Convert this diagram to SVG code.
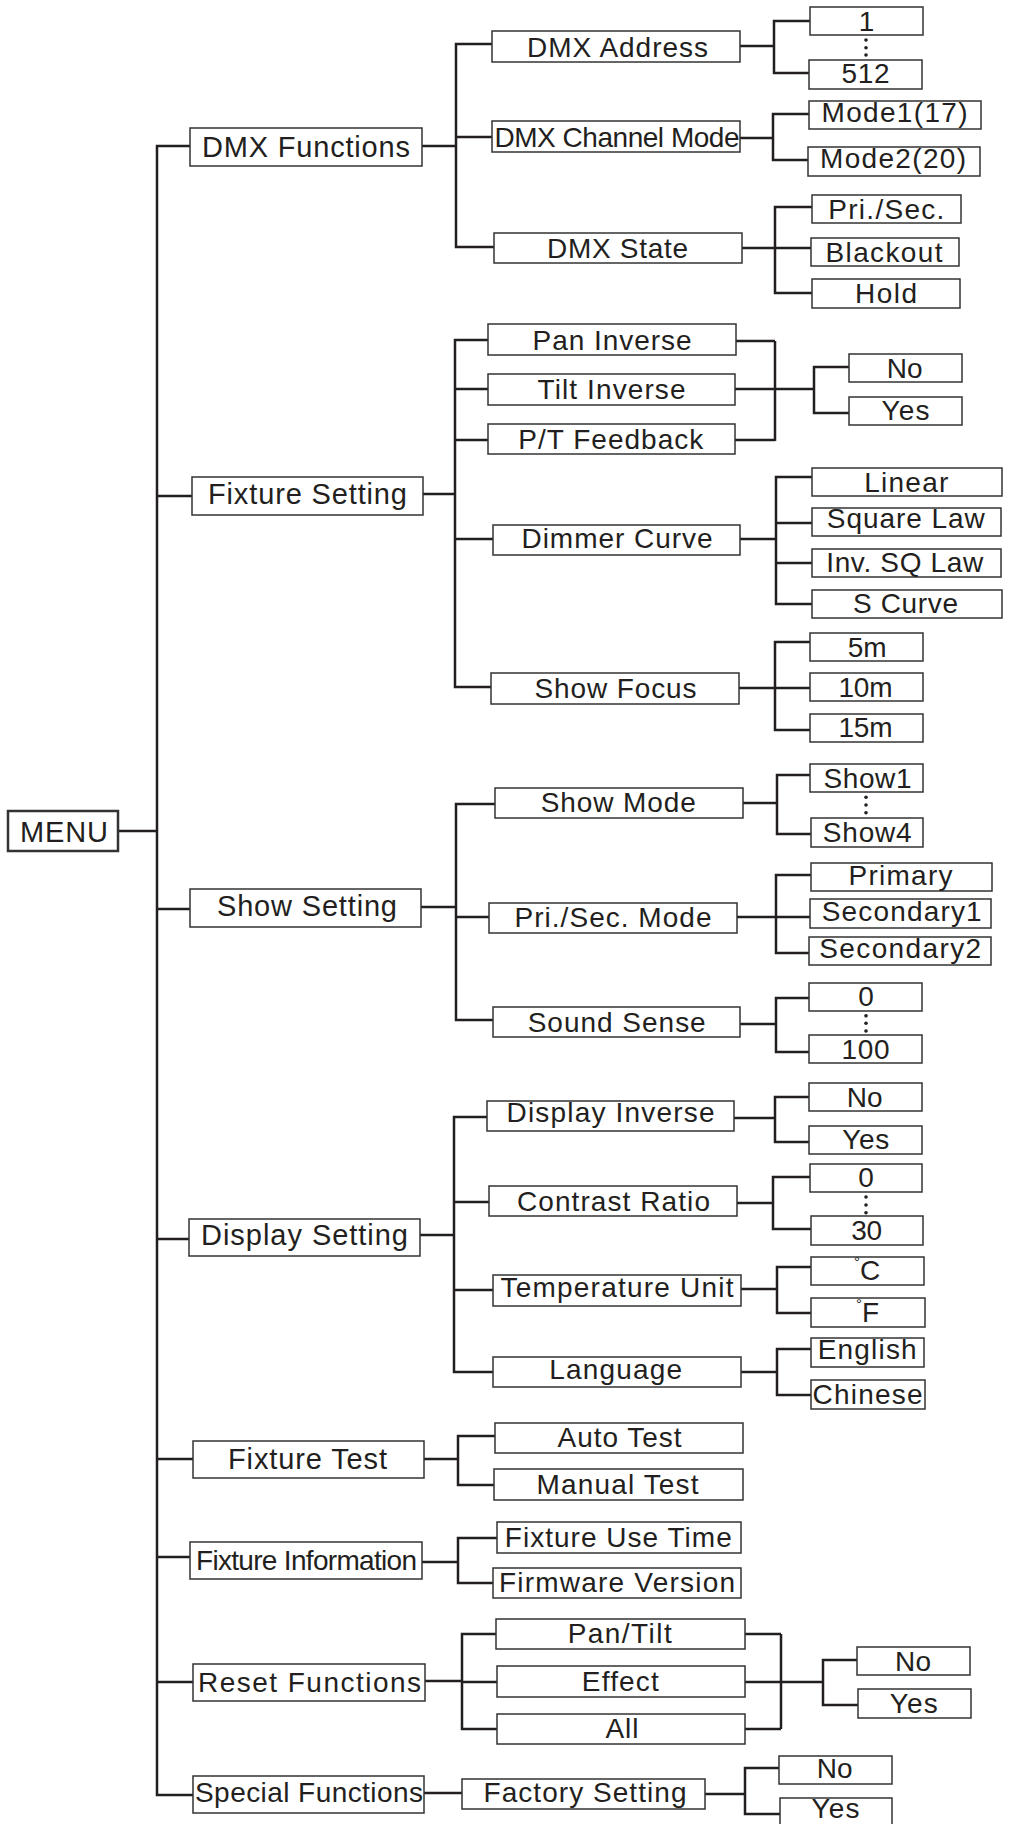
<svg xmlns="http://www.w3.org/2000/svg" width="1014" height="1824" viewBox="0 0 1014 1824">
<style>
.b{fill:#fff;stroke:#333;stroke-width:1.5}
.t{font-family:"Liberation Sans",Arial,sans-serif;font-size:28px;fill:#231f20;text-anchor:middle}
.h{font-size:29px}
.c{fill:none;stroke:#231f20;stroke-width:2.5}
.d{fill:#231f20}
</style>
<rect width="1014" height="1824" fill="#fff"/>
<g id="connectors" class="c">
<path d="M190 146H157V1795H193"/>
<path d="M118 831H157"/>
<path d="M157 496H192M157 909H190M157 1239H189M157 1459H193M157 1557H190M157 1682H193"/>
<path d="M422 146H456M493 44H456V247H495M456 137H493"/>
<path d="M740 46H774M810 21H774V73H809"/>
<path d="M740 138H773M809 114H773V160H808"/>
<path d="M742 248H775M812 207H775V293H812M775 248H811"/>
<path d="M423 494H455M488 340H455V687H491M455 389H488M455 440H488M455 539H493"/>
<path d="M736 341H775M735 389H775M735 440H775M775 341V441M775 389H814M849 367H814V413H849"/>
<path d="M740 539H776M812 477H776V604H812M776 523H812M776 563H812"/>
<path d="M739 688H775M810 642H775V730H810M775 688H810"/>
<path d="M421 907H456M495 804H456V1020H493M456 917H489"/>
<path d="M743 803H777M810 775H777V834H811"/>
<path d="M737 917H776M811 875H776V953H809M776 917H810"/>
<path d="M740 1024H776M809 998H776V1052H809"/>
<path d="M420 1235H454M487 1117H454V1372H493M454 1202H489M454 1290H493"/>
<path d="M734 1118H775M809 1097H775V1142H809"/>
<path d="M737 1203H773M810 1177H773V1229H811"/>
<path d="M741 1289H777M811 1267H777V1313H811"/>
<path d="M741 1372H777M811 1349H777V1395H811"/>
<path d="M424 1459H458M495 1436H458V1485H494"/>
<path d="M422 1562H458M497 1538H458V1583H493"/>
<path d="M425 1681H462M496 1634H462V1729H497M462 1682H497"/>
<path d="M745 1634H781M745 1682H781M745 1729H781M781 1634V1729M781 1682H823M857 1660H823V1705H858"/>
<path d="M424 1793H462"/>
<path d="M705 1794H745M779 1768H745V1814H780"/>
</g>
<g id="menu"><rect x="8" y="811" width="110" height="40" fill="#fff" stroke="#333" stroke-width="2.5"/><text class="t h" x="64" y="841.5" textLength="88" font-size="30">MENU</text></g>
<g id="dmx-functions"><rect class="b" x="190" y="128" width="232" height="38"/><text class="t h" x="306" y="157" textLength="208">DMX Functions</text></g>
<g id="fixture-setting"><rect class="b" x="192" y="477" width="231" height="38"/><text class="t h" x="307.5" y="504" textLength="199">Fixture Setting</text></g>
<g id="show-setting"><rect class="b" x="190" y="889" width="231" height="38"/><text class="t h" x="307" y="916" textLength="180">Show Setting</text></g>
<g id="display-setting"><rect class="b" x="189" y="1219" width="231" height="37"/><text class="t h" x="304.5" y="1245" textLength="207">Display Setting</text></g>
<g id="fixture-test"><rect class="b" x="193" y="1441" width="231" height="37"/><text class="t h" x="307.5" y="1469" textLength="159">Fixture Test</text></g>
<g id="fixture-information"><rect class="b" x="190" y="1542" width="232" height="37"/><text class="t" x="306.5" y="1570" textLength="221" font-size="25">Fixture Information</text></g>
<g id="reset-functions"><rect class="b" x="193" y="1664" width="232" height="37"/><text class="t" x="309.5" y="1691.5" textLength="223">Reset Functions</text></g>
<g id="special-functions"><rect class="b" x="193" y="1776" width="231" height="37"/><text class="t" x="309" y="1801.5" textLength="228">Special Functions</text></g>

<g id="dmx-address"><rect class="b" x="492" y="31" width="248" height="31"/><text class="t" x="617.5" y="57" textLength="181">DMX Address</text></g>
<g id="dmx-channel-mode"><rect class="b" x="492" y="121" width="248" height="31"/><text class="t" x="617" y="146.5" textLength="245" font-size="27">DMX Channel Mode</text></g>
<g id="dmx-state"><rect class="b" x="494" y="233" width="248" height="30"/><text class="t" x="617.5" y="258.3" textLength="141">DMX State</text></g>
<g id="addr-1"><rect class="b" x="810" y="7" width="113" height="28"/><text class="t" x="866.5" y="31">1</text></g>
<g id="addr-dots" class="d"><circle cx="866" cy="40" r="1.8"/><circle cx="866" cy="47.7" r="1.8"/><circle cx="866" cy="55" r="1.8"/></g>
<g id="addr-512"><rect class="b" x="809" y="60" width="113" height="29"/><text class="t" x="865.5" y="83.3" textLength="48">512</text></g>
<g id="mode1"><rect class="b" x="809" y="101" width="172" height="28"/><text class="t" x="894.5" y="121.7" textLength="146">Mode1(17)</text></g>
<g id="mode2"><rect class="b" x="808" y="147" width="172" height="29"/><text class="t" x="893" y="167.7" textLength="146">Mode2(20)</text></g>
<g id="pri-sec"><rect class="b" x="812" y="195" width="149" height="28"/><text class="t" x="886.3" y="219" textLength="116">Pri./Sec.</text></g>
<g id="blackout"><rect class="b" x="811" y="238" width="148" height="28"/><text class="t" x="884" y="261.7" textLength="117">Blackout</text></g>
<g id="hold"><rect class="b" x="812" y="279" width="148" height="29"/><text class="t" x="886" y="302.5" textLength="62">Hold</text></g>

<g id="pan-inverse"><rect class="b" x="488" y="324" width="248" height="31"/><text class="t" x="612" y="350" textLength="159">Pan Inverse</text></g>
<g id="tilt-inverse"><rect class="b" x="488" y="374" width="247" height="31"/><text class="t" x="611.5" y="399.3" textLength="148">Tilt Inverse</text></g>
<g id="pt-feedback"><rect class="b" x="488" y="424" width="247" height="30"/><text class="t" x="610.8" y="449" textLength="185">P/T Feedback</text></g>
<g id="inverse-no"><rect class="b" x="849" y="354" width="113" height="28"/><text class="t" x="904.7" y="378.3" textLength="36">No</text></g>
<g id="inverse-yes"><rect class="b" x="849" y="397" width="113" height="28"/><text class="t" x="905.5" y="420" textLength="48">Yes</text></g>
<g id="dimmer-curve"><rect class="b" x="493" y="525" width="247" height="30"/><text class="t" x="617" y="548.3" textLength="191">Dimmer Curve</text></g>
<g id="linear"><rect class="b" x="812" y="468" width="190" height="28"/><text class="t" x="906.3" y="491.7" textLength="84">Linear</text></g>
<g id="square-law"><rect class="b" x="812" y="508" width="189" height="28"/><text class="t" x="905.8" y="528.3" textLength="158">Square Law</text></g>
<g id="inv-sq-law"><rect class="b" x="812" y="549" width="189" height="28"/><text class="t" x="904.7" y="571.7" textLength="157">Inv. SQ Law</text></g>
<g id="s-curve"><rect class="b" x="812" y="590" width="190" height="28"/><text class="t" x="905.5" y="613.3" textLength="105">S Curve</text></g>
<g id="show-focus"><rect class="b" x="491" y="673" width="248" height="31"/><text class="t" x="615.5" y="697.7" textLength="162">Show Focus</text></g>
<g id="focus-5m"><rect class="b" x="810" y="633" width="113" height="28"/><text class="t" x="867.2" y="656.7" textLength="39">5m</text></g>
<g id="focus-10m"><rect class="b" x="810" y="673" width="113" height="28"/><text class="t" x="865.5" y="696.7" textLength="54">10m</text></g>
<g id="focus-15m"><rect class="b" x="810" y="714" width="113" height="28"/><text class="t" x="865.5" y="737.3" textLength="54">15m</text></g>

<g id="show-mode"><rect class="b" x="495" y="788" width="248" height="30"/><text class="t" x="618.3" y="812.3" textLength="155">Show Mode</text></g>
<g id="show1"><rect class="b" x="810" y="764" width="113" height="28"/><text class="t" x="867.5" y="787.7" textLength="88">Show1</text></g>
<g id="show-dots" class="d"><circle cx="866" cy="797.3" r="1.8"/><circle cx="866" cy="805" r="1.8"/><circle cx="866" cy="812.7" r="1.8"/></g>
<g id="show4"><rect class="b" x="811" y="818" width="112" height="29"/><text class="t" x="867.2" y="842.3" textLength="89">Show4</text></g>
<g id="pri-sec-mode"><rect class="b" x="489" y="903" width="248" height="30"/><text class="t" x="613" y="926.7" textLength="197">Pri./Sec. Mode</text></g>
<g id="primary"><rect class="b" x="811" y="863" width="181" height="28"/><text class="t" x="900.5" y="885" textLength="104">Primary</text></g>
<g id="secondary1"><rect class="b" x="810" y="899" width="181" height="29"/><text class="t" x="901.7" y="920.7" textLength="160">Secondary1</text></g>
<g id="secondary2"><rect class="b" x="809" y="937" width="182" height="28"/><text class="t" x="900.2" y="958.3" textLength="162">Secondary2</text></g>
<g id="sound-sense"><rect class="b" x="493" y="1007" width="247" height="30"/><text class="t" x="616.7" y="1031.7" textLength="178">Sound Sense</text></g>
<g id="sound-0"><rect class="b" x="809" y="983" width="113" height="28"/><text class="t" x="866" y="1006">0</text></g>
<g id="sound-dots" class="d"><circle cx="866" cy="1015.7" r="1.8"/><circle cx="866" cy="1023.3" r="1.8"/><circle cx="866" cy="1031" r="1.8"/></g>
<g id="sound-100"><rect class="b" x="809" y="1035" width="113" height="28"/><text class="t" x="865.5" y="1059" textLength="48">100</text></g>

<g id="display-inverse"><rect class="b" x="487" y="1101" width="247" height="30"/><text class="t" x="610.5" y="1121.7" textLength="208">Display Inverse</text></g>
<g id="display-no"><rect class="b" x="809" y="1083" width="113" height="28"/><text class="t" x="864.7" y="1106.7" textLength="36">No</text></g>
<g id="display-yes"><rect class="b" x="809" y="1126" width="113" height="28"/><text class="t" x="865.8" y="1149.3" textLength="47">Yes</text></g>
<g id="contrast-ratio"><rect class="b" x="489" y="1186" width="248" height="30"/><text class="t" x="613.5" y="1210.5" textLength="193">Contrast Ratio</text></g>
<g id="contrast-0"><rect class="b" x="810" y="1164" width="112" height="28"/><text class="t" x="866" y="1187.3">0</text></g>
<g id="contrast-dots" class="d"><circle cx="866" cy="1197" r="1.8"/><circle cx="866" cy="1205" r="1.8"/><circle cx="866" cy="1212.7" r="1.8"/></g>
<g id="contrast-30"><rect class="b" x="811" y="1216" width="112" height="29"/><text class="t" x="866.7" y="1240" textLength="31">30</text></g>
<g id="temperature-unit"><rect class="b" x="493" y="1275" width="248" height="31"/><text class="t" x="617" y="1296.7" textLength="233">Temperature Unit</text></g>
<g id="unit-c"><rect class="b" x="811" y="1257" width="113" height="28"/><text class="t" x="867" y="1280"><tspan font-size="15" dy="-13">°</tspan><tspan dy="13">C</tspan></text></g>
<g id="unit-f"><rect class="b" x="811" y="1298" width="114" height="29"/><text class="t" x="867.5" y="1321.7"><tspan font-size="15" dy="-13">°</tspan><tspan dy="13">F</tspan></text></g>
<g id="language"><rect class="b" x="493" y="1357" width="248" height="30"/><text class="t" x="615.7" y="1379" textLength="133">Language</text></g>
<g id="english"><rect class="b" x="811" y="1338" width="113" height="29"/><text class="t" x="867.2" y="1359.3" textLength="99">English</text></g>
<g id="chinese"><rect class="b" x="811" y="1380" width="114" height="29"/><text class="t" x="867.5" y="1404" textLength="110">Chinese</text></g>

<g id="auto-test"><rect class="b" x="495" y="1423" width="248" height="30"/><text class="t" x="619.5" y="1447.3" textLength="124">Auto Test</text></g>
<g id="manual-test"><rect class="b" x="494" y="1469" width="249" height="31"/><text class="t" x="617.5" y="1494" textLength="162">Manual Test</text></g>
<g id="fixture-use-time"><rect class="b" x="497" y="1522" width="244" height="31"/><text class="t" x="618.3" y="1546.7" textLength="227">Fixture Use Time</text></g>
<g id="firmware-version"><rect class="b" x="493" y="1568" width="248" height="30"/><text class="t" x="617" y="1591.7" textLength="236">Firmware Version</text></g>
<g id="pan-tilt"><rect class="b" x="496" y="1619" width="249" height="30"/><text class="t" x="619.7" y="1643.3" textLength="104">Pan/Tilt</text></g>
<g id="effect"><rect class="b" x="497" y="1666" width="248" height="31"/><text class="t" x="620.3" y="1690.7" textLength="77">Effect</text></g>
<g id="all"><rect class="b" x="497" y="1714" width="248" height="30"/><text class="t" x="622" y="1738.3" textLength="33">All</text></g>
<g id="reset-no"><rect class="b" x="857" y="1647" width="113" height="28"/><text class="t" x="913" y="1670.7" textLength="36">No</text></g>
<g id="reset-yes"><rect class="b" x="858" y="1689" width="113" height="29"/><text class="t" x="913.8" y="1712.7" textLength="48">Yes</text></g>
<g id="factory-setting"><rect class="b" x="462" y="1779" width="243" height="30"/><text class="t" x="585" y="1801.7" textLength="203">Factory Setting</text></g>
<g id="factory-no"><rect class="b" x="779" y="1756" width="113" height="28"/><text class="t" x="834.7" y="1778.3" textLength="36">No</text></g>
<g id="factory-yes"><rect class="b" x="780" y="1798" width="112" height="30"/><text class="t" x="835.5" y="1818" textLength="48" font-size="26">Yes</text></g>
</svg>
